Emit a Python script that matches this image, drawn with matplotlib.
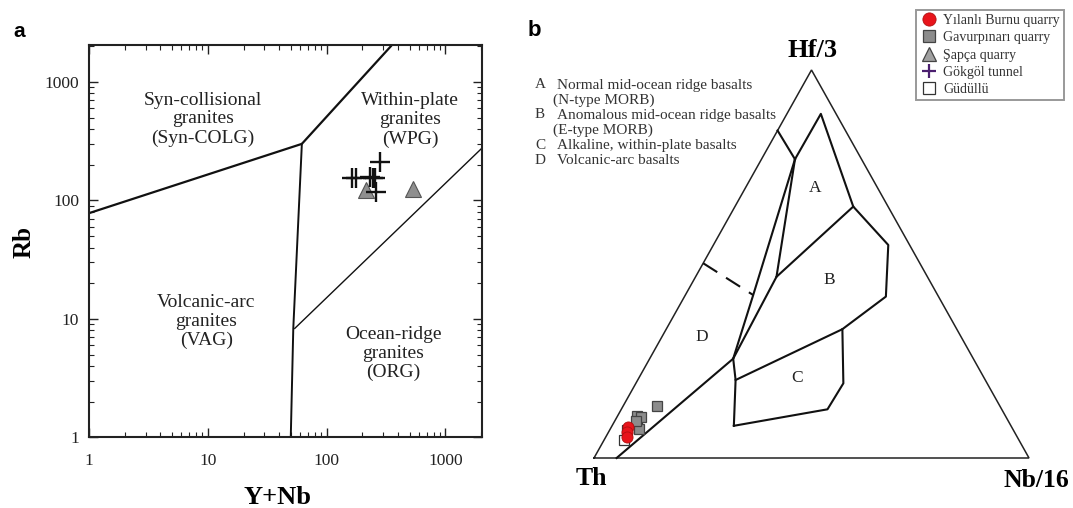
import matplotlib
matplotlib.use("Agg")
import matplotlib.pyplot as plt
from matplotlib.lines import Line2D
from matplotlib.ticker import FixedLocator, FuncFormatter, LogLocator, NullFormatter

plt.rcParams['font.family'] = ['Liberation Serif', 'DejaVu Serif']

# ---------------- Panel a data : Rb vs Y+Nb (Pearce et al. 1984) ----------------
gokgol_ynb = [165, 178, 233, 246, 257, 283, 262]
gokgol_rb = [156, 156, 157, 154, 154, 212, 118]
sapca_ynb = [216, 540]
sapca_rb = [122, 124]

syncolg_ynb = [1, 62, 348]
syncolg_rb = [78, 300, 2000]
vag_ynb = [50, 52.5, 62]
vag_rb = [1, 8.3, 300]
org_ynb = [54, 2050]
org_rb = [8.3, 278]

tick_vals = [1, 10, 100, 1000]
region_labels_a = ["Syn-collisional\ngranites\n(Syn-COLG)",
                   "Within-plate\ngranites\n(WPG)",
                   "Volcanic-arc\ngranites\n(VAG)",
                   "Ocean-ridge\ngranites\n(ORG)"]
region_ynb = [9.1, 506, 9.7, 366]
region_rb = [485, 476, 9.45, 5.1]

# ---------------- Panel b data : Th - Hf/3 - Nb/16 (Wood 1980) ----------------
# compositions as (Th, Hf/3, Nb/16) fractions
P1 = (0.156, 0.844, 0.000)
J1 = (0.153, 0.770, 0.077)
AT = (0.035, 0.887, 0.078)
J2 = (0.080, 0.648, 0.272)
J3 = (0.347, 0.467, 0.186)
DE = (0.424, 0.420, 0.156)
DS = (0.498, 0.502, 0.000)
K = (0.552, 0.256, 0.192)
BASE = (0.948, 0.000, 0.052)
B1 = (0.049, 0.549, 0.402)
B2 = (0.121, 0.416, 0.463)
B3 = (0.263, 0.332, 0.405)
BC = (0.574, 0.201, 0.225)
C1 = (0.330, 0.1925, 0.477)
C2 = (0.400, 0.1255, 0.474)
C3 = (0.637, 0.083, 0.280)

solid_lines = [[P1, J1], [J1, AT, J2], [J1, J3, K], [J1, DE, K, BASE],
               [J3, J2, B1, B2, B3, BC], [K, BC, C3], [B3, C1, C2, C3]]
dashed_lines = [[DS, DE]]

field_letters = ["A", "B", "C", "D"]
field_hf = [0.695, 0.459, 0.206, 0.313]
field_nb = [0.160, 0.311, 0.364, 0.092]

gavur_hf = [0.134, 0.108, 0.105, 0.074, 0.095]
gavur_nb = [0.0785, 0.0455, 0.055, 0.067, 0.049]
gudullu_hf = [0.046, 0.072, 0.098]
gudullu_nb = [0.046, 0.040, 0.050]
yilanli_hf = [0.081, 0.067, 0.053]
yilanli_nb = [0.0385, 0.0425, 0.050]

legend_labels = ["Yılanlı Burnu quarry", "Gavurpınarı quarry", "Şapça quarry",
                 "Gökgöl tunnel", "Güdüllü"]
desc_lines = [("A", "Normal mid-ocean ridge basalts"), ("", "(N-type MORB)"),
              ("B", "Anomalous mid-ocean ridge basalts"), ("", "(E-type MORB)"),
              ("C", "Alkaline, within-plate basalts"), ("D", "Volcanic-arc basalts")]

W, H = 1073, 508
fig = plt.figure(figsize=(W / 100, H / 100), dpi=100)


def fx(px):
    return px / W


def fy(py):
    return 1 - py / H


# ================= Panel a =================
ax = fig.add_axes([fx(89), fy(437.3), (482.3 - 89) / W, (437.3 - 45) / H])
ax.set_xscale('log')
ax.set_yscale('log')
ax.set_xlim(1, 2050)
ax.set_ylim(1, 2050)
lc = '#111111'
ax.plot(syncolg_ynb, syncolg_rb, color=lc, lw=1.6)
ax.plot(vag_ynb, vag_rb, color=lc, lw=1.4)
ax.plot(org_ynb, org_rb, color=lc, lw=1.0)
ax.plot(gokgol_ynb, gokgol_rb, linestyle='none', marker='+', ms=14.5, mew=1.7, color='#111111', zorder=4)
ax.plot(sapca_ynb, sapca_rb, linestyle='none', marker='^', ms=11.5, mfc='#8f8f8f', mec='#555555', mew=0.8, zorder=3)

for lab, xv, yv in zip(region_labels_a, region_ynb, region_rb):
    ax.text(xv, yv, lab, ha='center', va='center', fontsize=14, linespacing=1.15, color='#222222')

fmt = FuncFormatter(lambda v, p: f"{v:g}")
for axis in (ax.xaxis, ax.yaxis):
    axis.set_major_locator(FixedLocator(tick_vals))
    axis.set_major_formatter(fmt)
    axis.set_minor_locator(LogLocator(base=10, subs=range(2, 10)))
    axis.set_minor_formatter(NullFormatter())
ax.tick_params(which='both', direction='in', top=True, right=True, colors='#222222')
ax.tick_params(which='major', length=6.5, width=1.0, labelsize=12.5)
ax.tick_params(which='minor', length=3.5, width=0.8)
ax.tick_params(axis='x', which='major', pad=11)
ax.tick_params(axis='y', which='major', pad=7)
for s in ax.spines.values():
    s.set_linewidth(1.5)
    s.set_color('#222222')

fig.text(fx(277), fy(498), "Y+Nb", ha='center', va='center', fontsize=19, fontweight='bold')
fig.text(fx(24), fy(242), "Rb", ha='center', va='center', rotation=90, fontsize=18, fontweight='bold')
fig.text(fx(13), fy(31.5), "a", ha='left', va='center', fontsize=15, fontweight='bold',
         family=['Liberation Sans', 'DejaVu Sans'])
fig.text(fx(528), fy(30), "b", ha='left', va='center', fontsize=16, fontweight='bold',
         family=['Liberation Sans', 'DejaVu Sans'])

# ================= Panel b =================
bx = fig.add_axes([fx(594), fy(458), 435 / W, 388 / H])
bx.set_xlim(0, 1)
bx.set_ylim(0, 1)
bx.axis('off')


def tx(hf, nb):
    return nb + 0.5 * hf


def pts(seq):
    xs = [tx(p[1], p[2]) for p in seq]
    ys = [p[1] for p in seq]
    return xs, ys


tri = [(1, 0, 0), (0, 0, 1), (0, 1, 0), (1, 0, 0)]
xs, ys = pts(tri)
bx.plot(xs, ys, color='#222222', lw=1.1, clip_on=False, solid_joinstyle='miter')
for seg in solid_lines:
    xs, ys = pts(seg)
    bx.plot(xs, ys, color='#111111', lw=1.5, clip_on=False)
for seg in dashed_lines:
    xs, ys = pts(seg)
    bx.plot(xs, ys, color='#111111', lw=1.5, ls=(0, (8, 5)), clip_on=False)

for lab, hf, nb in zip(field_letters, field_hf, field_nb):
    bx.text(tx(hf, nb), hf, lab, ha='center', va='center', fontsize=12.5, color='#222222')

bx.plot([tx(h, n) for h, n in zip(gudullu_hf, gudullu_nb)], gudullu_hf, linestyle='none',
        marker='s', ms=7.5, mfc='white', mec='#333333', mew=0.9, clip_on=False, zorder=3)
bx.plot([tx(h, n) for h, n in zip(gavur_hf, gavur_nb)], gavur_hf, linestyle='none',
        marker='s', ms=7.5, mfc='#8c8c8c', mec='#444444', mew=0.9, clip_on=False, zorder=4)
bx.plot([tx(h, n) for h, n in zip(yilanli_hf, yilanli_nb)], yilanli_hf, linestyle='none',
        marker='o', ms=8, mfc='#e8141b', mec='#b01010', mew=0.6, clip_on=False, zorder=5)

bx.text(0.503, 1.049, "Hf/3", ha='center', va='center', fontsize=19, fontweight='bold')
bx.text(-0.005, -0.052, "Th", ha='center', va='center', fontsize=18.5, fontweight='bold')
bx.text(1.017, -0.058, "Nb/16", ha='center', va='center', fontsize=18.5, fontweight='bold')

ys_desc = [85, 100, 115, 130, 146, 161]
for (letter, txt), yy in zip(desc_lines, ys_desc):
    if letter:
        fig.text(fx(535), fy(yy), letter, ha='left', va='center', fontsize=11, color='#333333')
        fig.text(fx(557), fy(yy), txt, ha='left', va='center', fontsize=11, color='#333333')
    else:
        fig.text(fx(553), fy(yy), txt, ha='left', va='center', fontsize=11, color='#333333')

handles = [
    Line2D([], [], linestyle='none', marker='o', ms=9.5, mfc='#e8141b', mec='#b01010', mew=0.6),
    Line2D([], [], linestyle='none', marker='s', ms=8, mfc='#8c8c8c', mec='#444444', mew=0.9),
    Line2D([], [], linestyle='none', marker='^', ms=9.5, mfc='#a0a0a0', mec='#444444', mew=0.9),
    Line2D([], [], linestyle='none', marker='+', ms=10, mew=1.6, color='#4b1f6f'),
    Line2D([], [], linestyle='none', marker='s', ms=8, mfc='white', mec='#333333', mew=0.9),
]
leg = fig.legend(handles, legend_labels, loc='upper right', bbox_to_anchor=(fx(1064), fy(10)),
                 frameon=True, fancybox=False, edgecolor='#999999', framealpha=1,
                 prop={'size': 10}, handlelength=1.25, handletextpad=0.4, borderpad=0.3,
                 labelspacing=0.3, borderaxespad=0)
leg.get_frame().set_linewidth(1.4)
for t in leg.get_texts():
    t.set_color('#333333')

fig.savefig("out.png", dpi=100)
